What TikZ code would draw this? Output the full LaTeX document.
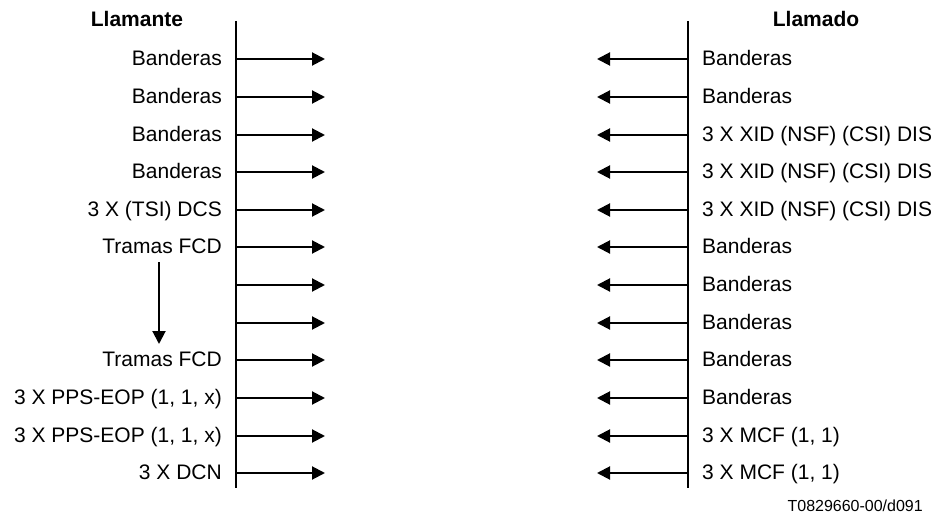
\documentclass[tikz,border=0pt]{standalone}
\usepackage{fontspec}
\setmainfont{Liberation Sans}
\usetikzlibrary{arrows.meta}
\begin{document}
\begin{tikzpicture}[x=1pt,y=-1pt,
  lbl/.style={font=\fontsize{21}{24}\selectfont, inner sep=0pt},
  ttl/.style={font=\fontsize{21}{24}\selectfont\bfseries, inner sep=0pt},
  life/.style={line width=2.5pt},
  msg/.style={line width=2pt, -{Triangle[length=13pt,width=13pt]}}]
\useasboundingbox (0,0) rectangle (940,524);
\node[ttl, anchor=base] (lt) at (137,27) {Llamante};
\node[ttl, anchor=base] (rt) at (816,27) {Llamado};
\coordinate (ltop) at (236,21);
\coordinate (lbot) at (236,488);
\coordinate (rtop) at (688,21);
\coordinate (rbot) at (688,488);
\draw[life] (ltop) -- (lbot);
\draw[life] (rtop) -- (rbot);
\foreach \i/\y/\l/\r in {
 1/59/Banderas/Banderas,
 2/97/Banderas/Banderas,
 3/135/Banderas/3 X XID (NSF) (CSI) DIS,
 4/172/Banderas/3 X XID (NSF) (CSI) DIS,
 5/210/3 X (TSI) DCS/3 X XID (NSF) (CSI) DIS,
 6/247/Tramas FCD/Banderas,
 7/285//Banderas,
 8/323//Banderas,
 9/360/Tramas FCD/Banderas,
 10/398/{3 X PPS-EOP (1, 1, x)}/Banderas,
 11/436/{3 X PPS-EOP (1, 1, x)}/{3 X MCF (1, 1)},
 12/473/3 X DCN/{3 X MCF (1, 1)}}{
  \coordinate (la\i) at (236,\y);
  \coordinate (lb\i) at (325,\y);
  \coordinate (ra\i) at (688,\y);
  \coordinate (rb\i) at (597,\y);
  \draw[msg] (la\i) -- (lb\i);
  \draw[msg] (ra\i) -- (rb\i);
  \node[lbl, anchor=base east] (ll\i) at (222,\y+6.5) {\l};
  \node[lbl, anchor=base west] (rl\i) at (702,\y+6.5) {\r};
}
\coordinate (va) at (159,262);
\coordinate (vb) at (159,344);
\draw[msg] (va) -- (vb);
\node[font=\fontsize{16}{18}\selectfont, inner sep=0pt, anchor=base east] (ref) at (923,511) {T0829660-00/d091};
\end{tikzpicture}
\end{document}
